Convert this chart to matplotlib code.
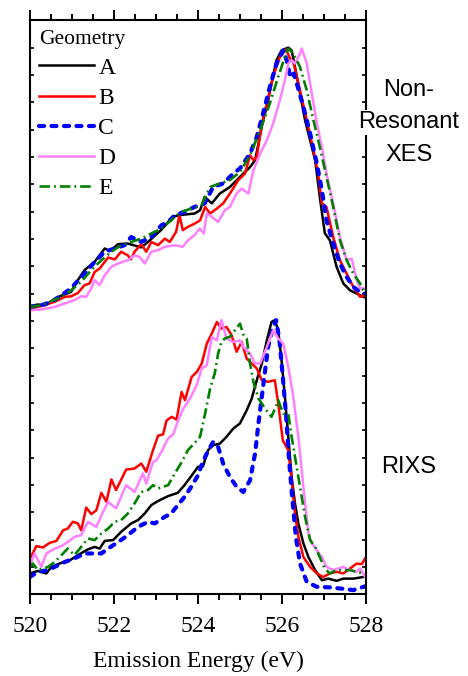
import matplotlib
matplotlib.use("Agg")
import matplotlib.pyplot as plt
from matplotlib.ticker import MultipleLocator

# ---- Non-resonant XES (upper set, already offset by +1) ----
xes_a_e = [520.00, 520.19, 520.35, 520.71, 520.98, 521.14, 521.30, 521.54, 521.78, 521.90, 522.10, 522.33, 522.65,
           522.81, 523.12, 523.40, 523.56, 523.92, 524.05, 524.16, 524.33, 524.52, 524.76, 525.00, 525.24, 525.36,
           525.44, 525.55, 525.64, 525.75, 525.87, 525.99, 526.15, 526.23, 526.31, 526.43, 526.55, 526.67, 526.79,
           526.90, 527.02, 527.14, 527.30, 527.46, 527.62, 527.78, 527.94, 528.00]
xes_a_i = [1.054, 1.060, 1.057, 1.090, 1.106, 1.149, 1.186, 1.216, 1.265, 1.256, 1.281, 1.283, 1.269,
           1.289, 1.332, 1.381, 1.387, 1.393, 1.405, 1.454, 1.430, 1.466, 1.490, 1.527, 1.563, 1.588,
           1.649, 1.734, 1.783, 1.869, 1.954, 1.990, 2.000, 1.990, 1.929, 1.832, 1.734, 1.661, 1.588,
           1.454, 1.321, 1.295, 1.198, 1.137, 1.112, 1.100, 1.088, 1.085]

xes_b_e = [520.00, 520.27, 520.59, 520.83, 520.98, 521.14, 521.30, 521.42, 521.54, 521.66, 521.86, 522.02, 522.17,
           522.33, 522.40, 522.49, 522.65, 522.77, 522.89, 523.05, 523.21, 523.33, 523.48, 523.56, 523.64, 523.76,
           523.92, 524.05, 524.17, 524.29, 524.45, 524.60, 524.76, 524.96, 525.12, 525.24, 525.32, 525.40, 525.52,
           525.64, 525.79, 525.95, 526.10, 526.19, 526.27, 526.43, 526.59, 526.75, 526.86, 526.95, 527.06, 527.22,
           527.38, 527.54, 527.70, 527.86, 527.98]
xes_b_i = [1.045, 1.054, 1.070, 1.088, 1.090, 1.102, 1.131, 1.137, 1.179, 1.192, 1.232, 1.225, 1.253,
           1.240, 1.225, 1.253, 1.281, 1.253, 1.289, 1.277, 1.301, 1.289, 1.326, 1.387, 1.332, 1.344,
           1.356, 1.368, 1.417, 1.393, 1.411, 1.430, 1.466, 1.515, 1.539, 1.606, 1.588, 1.600, 1.722,
           1.795, 1.893, 1.966, 1.993, 1.960, 1.948, 1.844, 1.734, 1.625, 1.539, 1.430, 1.417, 1.307,
           1.222, 1.173, 1.124, 1.088, 1.094]

xes_c_e = [520.00, 520.27, 520.51, 520.75, 520.98, 521.22, 521.34, 521.54, 521.78, 522.02, 522.25, 522.41, 522.65,
           522.89, 523.13, 523.29, 523.45, 523.68, 523.92, 524.16, 524.36, 524.60, 524.84, 525.00, 525.24, 525.40,
           525.55, 525.71, 525.87, 526.03, 526.12, 526.20, 526.28, 526.36, 526.51, 526.67, 526.83, 526.95, 527.06,
           527.22, 527.38, 527.54, 527.70, 527.86, 527.98]
xes_c_i = [1.051, 1.057, 1.070, 1.094, 1.119, 1.161, 1.179, 1.216, 1.253, 1.265, 1.277, 1.307, 1.289,
           1.307, 1.350, 1.362, 1.387, 1.399, 1.417, 1.430, 1.490, 1.503, 1.539, 1.558, 1.612, 1.673,
           1.759, 1.856, 1.942, 1.990, 1.950, 1.890, 1.905, 1.865, 1.783, 1.686, 1.576, 1.478, 1.368,
           1.283, 1.210, 1.161, 1.124, 1.106, 1.100]

xes_d_e = [520.00, 520.27, 520.59, 520.83, 521.06, 521.22, 521.34, 521.46, 521.54, 521.66, 521.78, 521.94, 522.10,
           522.33, 522.49, 522.61, 522.73, 522.89, 523.05, 523.21, 523.45, 523.64, 523.76, 523.92, 524.04, 524.14,
           524.21, 524.33, 524.48, 524.64, 524.76, 524.92, 525.04, 525.20, 525.32, 525.48, 525.64, 525.79, 525.95,
           526.07, 526.15, 526.23, 526.31, 526.43, 526.47, 526.59, 526.71, 526.83, 526.95, 527.06, 527.22, 527.38,
           527.54, 527.66, 527.78, 527.86, 528.00]
xes_d_i = [1.039, 1.042, 1.051, 1.064, 1.076, 1.090, 1.088, 1.119, 1.149, 1.131, 1.167, 1.198, 1.210,
           1.222, 1.240, 1.234, 1.210, 1.253, 1.259, 1.271, 1.277, 1.271, 1.295, 1.314, 1.338, 1.320,
           1.393, 1.381, 1.362, 1.405, 1.417, 1.466, 1.484, 1.466, 1.551, 1.612, 1.661, 1.722, 1.808,
           1.881, 1.942, 1.954, 1.942, 1.978, 1.997, 1.942, 1.832, 1.722, 1.637, 1.539, 1.430, 1.307,
           1.222, 1.228, 1.149, 1.119, 1.119]

xes_e_e = [520.00, 520.27, 520.51, 520.75, 520.98, 521.22, 521.46, 521.70, 521.94, 522.17, 522.41, 522.65, 522.89,
           523.13, 523.36, 523.60, 523.84, 524.08, 524.29, 524.52, 524.76, 525.00, 525.24, 525.48, 525.71, 525.91,
           526.07, 526.15, 526.27, 526.43, 526.59, 526.75, 526.90, 527.06, 527.22, 527.38, 527.54, 527.70, 527.86,
           527.98]
xes_e_i = [1.051, 1.057, 1.073, 1.088, 1.112, 1.143, 1.186, 1.222, 1.253, 1.277, 1.289, 1.301, 1.320,
           1.338, 1.368, 1.399, 1.411, 1.423, 1.490, 1.503, 1.515, 1.545, 1.606, 1.698, 1.795, 1.893,
           1.966, 1.997, 1.978, 1.929, 1.844, 1.734, 1.637, 1.527, 1.417, 1.295, 1.222, 1.173, 1.137,
           1.100]

# ---- RIXS (lower set) ----
rixs_a_e = [520.00, 520.19, 520.39, 520.51, 520.75, 520.95, 521.14, 521.38, 521.54, 521.66, 521.78, 521.98, 522.17,
            522.41, 522.57, 522.73, 522.89, 523.05, 523.29, 523.52, 523.68, 523.84, 524.00, 524.12, 524.24, 524.36,
            524.52, 524.68, 524.84, 525.00, 525.16, 525.28, 525.40, 525.52, 525.64, 525.75, 525.83, 525.91, 525.99,
            526.07, 526.15, 526.23, 526.31, 526.39, 526.51, 526.63, 526.79, 526.95, 527.10, 527.30, 527.46, 527.70,
            527.94]
rixs_a_i = [0.076, 0.085, 0.076, 0.100, 0.115, 0.124, 0.143, 0.164, 0.173, 0.167, 0.195, 0.198, 0.228,
            0.259, 0.271, 0.295, 0.326, 0.341, 0.359, 0.371, 0.399, 0.432, 0.466, 0.468, 0.527, 0.545,
            0.551, 0.576, 0.606, 0.625, 0.673, 0.716, 0.783, 0.844, 0.929, 0.996, 1.003, 0.966, 0.856,
            0.722, 0.576, 0.429, 0.332, 0.259, 0.186, 0.136, 0.088, 0.051, 0.057, 0.049, 0.057, 0.057,
            0.063]

rixs_b_e = [520.00, 520.03, 520.15, 520.31, 520.47, 520.63, 520.79, 520.90, 521.02, 521.14, 521.22, 521.34, 521.46,
            521.58, 521.70, 521.82, 521.94, 522.05, 522.29, 522.49, 522.65, 522.77, 522.93, 523.05, 523.17, 523.25,
            523.37, 523.49, 523.61, 523.69, 523.85, 523.97, 524.09, 524.21, 524.33, 524.45, 524.56, 524.68, 524.80,
            524.92, 525.04, 525.16, 525.28, 525.40, 525.52, 525.67, 525.83, 525.91, 526.02, 526.15, 526.23, 526.31,
            526.39, 526.51, 526.67, 526.83, 526.98, 527.14, 527.30, 527.46, 527.62, 527.78, 527.90, 527.98]
rixs_b_i = [0.149, 0.137, 0.176, 0.171, 0.188, 0.195, 0.234, 0.240, 0.265, 0.259, 0.234, 0.317, 0.293,
            0.307, 0.371, 0.338, 0.420, 0.381, 0.456, 0.460, 0.478, 0.448, 0.527, 0.580, 0.585, 0.635,
            0.649, 0.639, 0.740, 0.710, 0.795, 0.813, 0.844, 0.917, 0.954, 0.996, 0.972, 0.978, 0.948,
            0.887, 0.923, 0.862, 0.844, 0.826, 0.783, 0.777, 0.783, 0.698, 0.563, 0.527, 0.417, 0.295,
            0.210, 0.136, 0.100, 0.076, 0.063, 0.076, 0.082, 0.076, 0.094, 0.112, 0.110, 0.131]

rixs_c_e = [520.00, 520.19, 520.43, 520.59, 520.83, 521.06, 521.30, 521.54, 521.70, 521.86, 522.10, 522.33, 522.57,
            522.81, 522.97, 523.21, 523.36, 523.52, 523.68, 523.84, 524.00, 524.13, 524.25, 524.36, 524.48, 524.60,
            524.76, 524.92, 525.08, 525.24, 525.36, 525.44, 525.52, 525.60, 525.67, 525.78, 525.86, 525.94, 526.02,
            526.10, 526.17, 526.25, 526.33, 526.43, 526.59, 526.83, 527.14, 527.38, 527.70, 527.98]
rixs_c_i = [0.063, 0.082, 0.088, 0.100, 0.118, 0.131, 0.149, 0.149, 0.149, 0.167, 0.191, 0.216, 0.246,
            0.265, 0.259, 0.283, 0.295, 0.326, 0.356, 0.393, 0.435, 0.490, 0.527, 0.557, 0.539, 0.478,
            0.429, 0.393, 0.374, 0.417, 0.515, 0.625, 0.722, 0.820, 0.905, 0.972, 1.003, 0.929, 0.795,
            0.649, 0.490, 0.344, 0.210, 0.112, 0.045, 0.027, 0.025, 0.021, 0.015, 0.029]

rixs_d_e = [520.00, 520.11, 520.27, 520.39, 520.59, 520.75, 520.90, 521.06, 521.22, 521.38, 521.58, 521.74, 521.86,
            522.05, 522.29, 522.49, 522.69, 522.77, 522.93, 523.01, 523.13, 523.29, 523.41, 523.53, 523.65, 523.81,
            523.97, 524.09, 524.21, 524.33, 524.45, 524.56, 524.68, 524.84, 525.00, 525.08, 525.24, 525.36, 525.48,
            525.64, 525.79, 525.91, 526.03, 526.15, 526.27, 526.39, 526.47, 526.55, 526.63, 526.71, 526.83, 526.95,
            527.06, 527.22, 527.46, 527.62, 527.78, 527.86, 527.98]
rixs_d_i = [0.106, 0.149, 0.100, 0.149, 0.167, 0.176, 0.191, 0.210, 0.216, 0.265, 0.246, 0.301, 0.338,
            0.314, 0.399, 0.374, 0.442, 0.405, 0.484, 0.490, 0.521, 0.570, 0.585, 0.637, 0.679, 0.716,
            0.765, 0.826, 0.838, 0.941, 0.929, 1.003, 0.936, 0.923, 0.929, 0.905, 0.881, 0.844, 0.844,
            0.905, 0.966, 0.936, 0.917, 0.832, 0.722, 0.576, 0.454, 0.332, 0.222, 0.186, 0.161, 0.136,
            0.100, 0.088, 0.100, 0.088, 0.082, 0.094, 0.063]

rixs_e_e = [520.00, 520.07, 520.19, 520.43, 520.59, 520.75, 520.90, 521.06, 521.22, 521.38, 521.54, 521.70, 521.86,
            522.02, 522.17, 522.33, 522.49, 522.65, 522.81, 522.93, 523.05, 523.29, 523.45, 523.60, 523.76, 523.93,
            524.05, 524.17, 524.29, 524.40, 524.48, 524.56, 524.64, 524.76, 524.88, 525.00, 525.08, 525.16, 525.24,
            525.32, 525.44, 525.60, 525.75, 525.87, 525.91, 526.03, 526.15, 526.23, 526.31, 526.43, 526.55, 526.67,
            526.79, 526.90, 527.02, 527.14, 527.30, 527.46, 527.62, 527.78, 527.94]
rixs_e_i = [0.100, 0.112, 0.088, 0.100, 0.118, 0.143, 0.167, 0.143, 0.173, 0.204, 0.198, 0.222, 0.240,
            0.265, 0.271, 0.295, 0.332, 0.374, 0.381, 0.399, 0.387, 0.399, 0.442, 0.480, 0.527, 0.555,
            0.576, 0.661, 0.753, 0.808, 0.881, 0.923, 0.936, 0.942, 0.966, 0.990, 0.950, 0.936, 0.844,
            0.777, 0.716, 0.679, 0.649, 0.692, 0.710, 0.661, 0.661, 0.576, 0.502, 0.393, 0.283, 0.198,
            0.173, 0.136, 0.094, 0.076, 0.088, 0.088, 0.088, 0.082, 0.076]

labels = ["A", "B", "C", "D", "E"]
colors = ["#000000", "#ff0000", "#0000ff", "#ff80ff", "#008000"]
styles = ["-", "-", (0, (1.2, 1.8)), "-", (0, (4.0, 1.5, 0.7, 1.5))]
widths = [1.8, 1.8, 3.0, 1.8, 1.9]

xes_sets = [(xes_a_e, xes_a_i), (xes_b_e, xes_b_i), (xes_c_e, xes_c_i), (xes_d_e, xes_d_i), (xes_e_e, xes_e_i)]
rixs_sets = [(rixs_a_e, rixs_a_i), (rixs_b_e, rixs_b_i), (rixs_c_e, rixs_c_i), (rixs_d_e, rixs_d_i),
             (rixs_e_e, rixs_e_i)]

serif = "Liberation Serif"
sans = "Liberation Sans"

fig = plt.figure(figsize=(4.68, 6.76), dpi=100)
ax = fig.add_axes([0.064, 0.121, 0.718, 0.849])

for k in range(5):
    cap = "round" if k == 2 else "butt"
    ax.plot(xes_sets[k][0], xes_sets[k][1], color=colors[k], ls=styles[k], lw=widths[k],
            dash_capstyle=cap, label=labels[k])
    ax.plot(rixs_sets[k][0], rixs_sets[k][1], color=colors[k], ls=styles[k], lw=widths[k],
            dash_capstyle=cap)

ax.set_xlim(520, 528)
ax.set_ylim(0, 2.1)
ax.xaxis.set_major_locator(MultipleLocator(2))
ax.xaxis.set_minor_locator(MultipleLocator(0.5))
ax.yaxis.set_major_locator(MultipleLocator(0.1))
ax.tick_params(axis="x", which="major", direction="out", length=7, width=1.4,
               top=True, labelsize=17, pad=8.5)
ax.tick_params(axis="x", which="minor", direction="out", length=4, width=1.4, top=True)
ax.tick_params(axis="y", which="major", direction="in", length=3, width=1.2,
               right=True, labelleft=False)
for lab in ax.get_xticklabels():
    lab.set_fontfamily(serif)
for sp in ax.spines.values():
    sp.set_linewidth(1.5)

ax.set_xlabel("Emission Energy (eV)", fontsize=17, family=serif, labelpad=10)

leg = ax.legend(loc="upper left", bbox_to_anchor=(0, 1), frameon=False, title="Geometry",
                prop={"family": serif, "size": 17}, borderaxespad=0.3, borderpad=0.1,
                handlelength=2.3, handletextpad=0.2, labelspacing=0.36, alignment="left")
leg.get_title().set_fontfamily(serif)
leg.get_title().set_fontsize(15.5)

ax.text(1.128, 0.878, "Non-", transform=ax.transAxes, ha="center", va="center",
        fontsize=17, family=sans)
ax.text(1.128, 0.822, "Resonant", transform=ax.transAxes, ha="center", va="center",
        fontsize=17, family=sans, bbox=dict(facecolor="white", edgecolor="none", pad=1))
ax.text(1.128, 0.766, "XES", transform=ax.transAxes, ha="center", va="center",
        fontsize=17, family=sans)
ax.text(1.128, 0.221, "RIXS", transform=ax.transAxes, ha="center", va="center",
        fontsize=17, family=sans)

fig.savefig("out.png", dpi=100)
